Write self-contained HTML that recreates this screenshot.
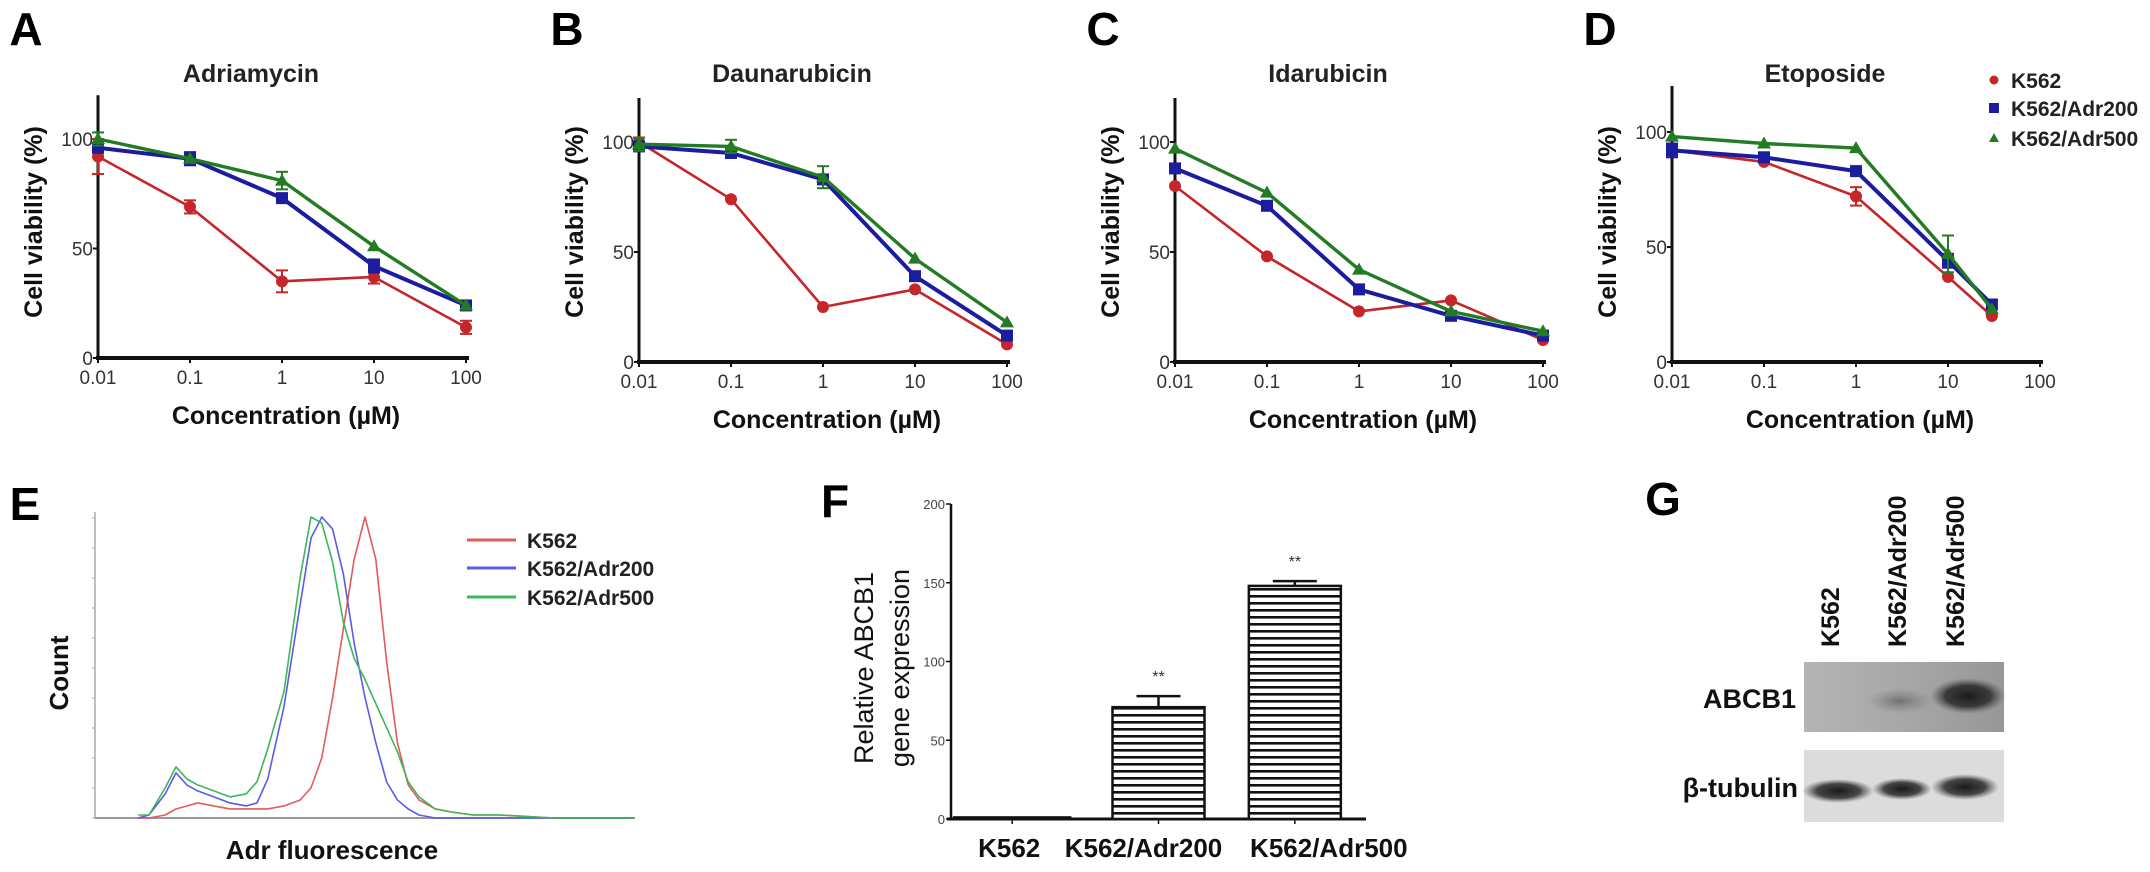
<!DOCTYPE html>
<html><head><meta charset="utf-8">
<style>
html,body{margin:0;padding:0;background:#fff;}
svg{display:block;font-family:"Liberation Sans",Arial,sans-serif;}
</style></head>
<body>
<svg id="fig" width="2150" height="872" viewBox="0 0 2150 872" xmlns="http://www.w3.org/2000/svg">
<defs>
<pattern id="hstripe" width="8" height="7" patternUnits="userSpaceOnUse">
<rect width="8" height="7" fill="#fff"/><rect y="0" width="8" height="2.6" fill="#111"/>
</pattern>
<linearGradient id="blot1" x1="0" x2="1" y1="0" y2="0">
<stop offset="0" stop-color="#b4b4b4"/><stop offset="0.45" stop-color="#a9a9a9"/><stop offset="1" stop-color="#979797"/>
</linearGradient>
<radialGradient id="band" cx="0.5" cy="0.5" r="0.5"><stop offset="0" stop-color="#1a1a1a"/><stop offset="0.6" stop-color="#2a2a2a" stop-opacity="0.85"/><stop offset="1" stop-color="#555" stop-opacity="0"/></radialGradient>
<radialGradient id="bandWeak" cx="0.5" cy="0.5" r="0.5"><stop offset="0" stop-color="#707070"/><stop offset="1" stop-color="#888" stop-opacity="0"/></radialGradient>
</defs>
</svg>
<script>
// ---------- Panel A-D data ----------
const concTicks = ["0.01","0.1","1","10","100"];
const concX = [0.01,0.1,1,10,100];
const concD = [0.01,0.1,1,10,30];
const yTicks = [0,50,100];
const seriesNames = ["K562","K562/Adr200","K562/Adr500"];
const adrK562 = [92,69,35,37,14];
const adrA200 = [96,91,73,42,24];
const adrA500 = [100,91,81,51,24];
const adrErrK562 = [8,3,5,3,3];
const adrErrA200 = [2,3,1,3,1];
const adrErrA500 = [3,1,4,1,1];
const dauK562 = [100,74,25,33,8];
const dauA200 = [98,95,83,39,12];
const dauA500 = [99,98,84,47,18];
const dauErrK562 = [2,1,1,1,1];
const dauErrA200 = [2,2,2,2,1];
const dauErrA500 = [3,3,5,1,1];
const idaK562 = [80,48,23,28,10];
const idaA200 = [88,71,33,21,12];
const idaA500 = [97,77,42,23,14];
const idaErrK562 = [1,1,1,1,1];
const idaErrA200 = [2,2,2,2,1];
const idaErrA500 = [1,1,1,1,1];
const etoK562 = [92,87,72,37,20];
const etoA200 = [92,89,83,44,25];
const etoA500 = [98,95,93,47,23];
const etoErrK562 = [1,1,4,1,1];
const etoErrA200 = [3,2,2,3,2];
const etoErrA500 = [1,1,1,8,1];
// ---------- Panel E data (channel 0-100, count % of max) ----------
const flChannels = [8,10,13,15,17,19,22,25,28,30,32,35,38,40,42,44,46,48,50,52,54,56,58,60,63,66,70,75,85,100];
const flK562 = [0,0,1,3,4,5,4,3,3,3,3,4,6,10,20,40,63,86,100,86,52,25,11,6,3,2,1,1,0,0];
const flA200 = [0,1,8,15,11,9,7,5,4,5,13,37,71,93,100,96,81,58,40,25,12,6,3,1,0,0,0,0,0,0];
const flA500 = [1,1,10,17,13,11,9,7,8,12,23,42,80,100,98,85,65,53,46,38,30,22,12,7,3,2,1,1,0,0];
// ---------- Panel F data ----------
const fCategories = ["K562","K562/Adr200","K562/Adr500"];
const fValues = [1,71,148];
const fErrors = [0.5,7,3];
const fTicks = [0,50,100,150,200];
const fSig = ["","**","**"];

const NS="http://www.w3.org/2000/svg";
const svg=document.getElementById('fig');
function mk(tag,attrs,parent,text){
  const e=document.createElementNS(NS,tag);
  for(const k in attrs) e.setAttribute(k,attrs[k]);
  if(text!==undefined) e.textContent=text;
  (parent||svg).appendChild(e);
  return e;
}
const colors=["#c4262a","#1c1c9e","#237b23"];
const widths=[2.6,4,3.4];

function marker(g,kind,x,y,color){
  let m;
  if(kind===0){ m=mk('circle',{cx:x,cy:y,r:6,fill:color},g); }
  else if(kind===1){ m=mk('rect',{x:x-6,y:y-6,width:12,height:12,fill:color},g); }
  else { m=mk('polygon',{points:`${x},${y-7} ${x+7},${y+5} ${x-7},${y+5}`,fill:color},g); }
  
  
}

function viabilityPanel(cfg){
  const g=mk('g',{});
  
  
  const X=c=>cfg.x0+(Math.log10(c)+2)*cfg.step;
  const Y=v=>cfg.y0-v*cfg.ppu;
  const xEnd=cfg.x0+4*cfg.step;
  const L=mk('text',{x:cfg.x0-72,y:45,'font-size':46,'font-weight':'bold',fill:'#000','text-anchor':'middle'},g,cfg.letter);
  
  
  const T=mk('text',{x:cfg.x0+153,y:82,'font-size':25,'font-weight':'bold',fill:'#222','text-anchor':'middle'},g,cfg.title);
  
  
  const ya=mk('line',{x1:cfg.x0,y1:Y(0)+1,x2:cfg.x0,y2:Y(120),stroke:'#111','stroke-width':3},g);
  
  
  const xa=mk('line',{x1:cfg.x0-2,y1:Y(0),x2:xEnd+3,y2:Y(0),stroke:'#111','stroke-width':4},g);
  
  
  yTicks.forEach(v=>{
    mk('line',{x1:cfg.x0-5,y1:Y(v),x2:cfg.x0,y2:Y(v),stroke:'#111','stroke-width':2},g);
    const t=mk('text',{x:cfg.x0-5,y:Y(v)+7,'font-size':19,fill:'#333','text-anchor':'end'},g,String(v));
    
    
  });
  concX.forEach((c,i)=>{
    mk('line',{x1:X(c),y1:Y(0),x2:X(c),y2:Y(0)+5,stroke:'#111','stroke-width':2},g);
    const t=mk('text',{x:X(c),y:cfg.y0+26,'font-size':19,fill:'#333','text-anchor':'middle'},g,concTicks[i]);
    
    
  });
  const xl=mk('text',{x:cfg.x0+188,y:cfg.y0+66,'font-size':25,'font-weight':'bold',fill:'#111','text-anchor':'middle'},g,'Concentration (\u00b5M)');
  
  
  const yl=mk('text',{x:0,y:0,'font-size':25,'font-weight':'bold',fill:'#111','text-anchor':'middle',transform:`translate(${cfg.x0-56},222) rotate(-90)`},g,'Cell viability (%)');
  
  
  cfg.series.forEach((vals,s)=>{
    const sg=mk('g',{},g);
    
    
    const pts=vals.map((v,i)=>X(cfg.xs[i])+','+Y(v)).join(' ');
    mk('polyline',{points:pts,fill:'none',stroke:colors[s],'stroke-width':widths[s],'stroke-linejoin':'round'},sg);
    vals.forEach((v,i)=>{
      const e=cfg.errs[s][i], x=X(cfg.xs[i]);
      if(e>1.5){
        mk('line',{x1:x,y1:Y(v+e),x2:x,y2:Y(v-e),stroke:colors[s],'stroke-width':2},sg);
        mk('line',{x1:x-6,y1:Y(v+e),x2:x+6,y2:Y(v+e),stroke:colors[s],'stroke-width':2},sg);
        mk('line',{x1:x-6,y1:Y(v-e),x2:x+6,y2:Y(v-e),stroke:colors[s],'stroke-width':2},sg);
      }
      marker(sg,s,x,Y(v),colors[s]);
    });
  });
  return g;
}

viabilityPanel({name:'panel-a-adriamycin',letter:'A',title:'Adriamycin',x0:98,step:92,y0:358,ppu:2.19,xs:concX,
  series:[adrK562,adrA200,adrA500],errs:[adrErrK562,adrErrA200,adrErrA500]});
viabilityPanel({name:'panel-b-daunarubicin',letter:'B',title:'Daunarubicin',x0:639,step:92,y0:362,ppu:2.2,xs:concX,
  series:[dauK562,dauA200,dauA500],errs:[dauErrK562,dauErrA200,dauErrA500]});
viabilityPanel({name:'panel-c-idarubicin',letter:'C',title:'Idarubicin',x0:1175,step:92,y0:362,ppu:2.2,xs:concX,
  series:[idaK562,idaA200,idaA500],errs:[idaErrK562,idaErrA200,idaErrA500]});
viabilityPanel({name:'panel-d-etoposide',letter:'D',title:'Etoposide',x0:1672,step:92,y0:362,ppu:2.3,xs:concD,
  series:[etoK562,etoA200,etoA500],errs:[etoErrK562,etoErrA200,etoErrA500]});

(function(){
  const g=mk('g',{});
  
  
  const ys=[80,108,138];
  seriesNames.forEach((n,i)=>{
    const eg=mk('g',{},g);
    
    
    if(i===0) mk('circle',{cx:1994,cy:ys[i],r:4.5,fill:colors[i]},eg);
    else if(i===1) mk('rect',{x:1989,y:ys[i]-5,width:10,height:10,fill:colors[i]},eg);
    else mk('polygon',{points:`1994,${ys[i]-5} 1999,${ys[i]+4} 1989,${ys[i]+4}`,fill:colors[i]},eg);
    mk('text',{x:2011,y:ys[i]+8,'font-size':21,'font-weight':'bold',fill:'#222'},eg,n);
  });
})();

// ---------- Panel E ----------
(function(){
  const g=mk('g',{});
  
  
  const X=c=>95+c*5.4, Y=v=>818-v*3.01;
  const L=mk('text',{x:25,y:520,'font-size':46,'font-weight':'bold',fill:'#000','text-anchor':'middle'},g,'E');
  
  
  const ya=mk('line',{x1:95,y1:818,x2:95,y2:512,stroke:'#aaa','stroke-width':1.5},g);
  
  
  for(let k=0;k<=10;k++){ mk('line',{x1:92,y1:818-k*30,x2:95,y2:818-k*30,stroke:'#aaa','stroke-width':1},g); }
  const xa=mk('line',{x1:95,y1:818,x2:635,y2:818,stroke:'#999','stroke-width':2},g);
  
  
  const ecol=["#e35b5b","#5b5be3","#3cb85a"];
  [flK562,flA200,flA500].forEach((arr,s)=>{
    const p=mk('polyline',{points:arr.map((v,i)=>X(flChannels[i])+','+Y(v)).join(' '),fill:'none',stroke:ecol[s],'stroke-width':1.6,'stroke-linejoin':'round'},g);
    
    
  });
  const ys=[540,568,597];
  seriesNames.forEach((n,i)=>{
    const eg=mk('g',{},g);
    
    
    mk('line',{x1:467,y1:ys[i],x2:516,y2:ys[i],stroke:ecol[i],'stroke-width':3},eg);
    mk('text',{x:527,y:ys[i]+8,'font-size':21,'font-weight':'bold',fill:'#222'},eg,n);
  });
  const yl=mk('text',{x:0,y:0,'font-size':26,'font-weight':'bold',fill:'#111','text-anchor':'middle',transform:'translate(68,673) rotate(-90)'},g,'Count');
  
  
  const xl=mk('text',{x:332,y:859,'font-size':26,'font-weight':'bold',fill:'#111','text-anchor':'middle'},g,'Adr fluorescence');
  
  
})();

// ---------- Panel F ----------
(function(){
  const g=mk('g',{});
  
  
  const x0=951, xEnd=1366, y0=819, ppu=1.575;
  const Y=v=>y0-v*ppu;
  const band=(xEnd-x0)/fCategories.length;
  const labelShift=[-3,-15,34];
  const L=mk('text',{x:835,y:517,'font-size':46,'font-weight':'bold',fill:'#000','text-anchor':'middle'},g,'F');
  
  
  const ya=mk('line',{x1:x0,y1:y0+1,x2:x0,y2:Y(200),stroke:'#111','stroke-width':2.5},g);
  
  
  const xa=mk('line',{x1:x0-4,y1:y0,x2:xEnd,y2:y0,stroke:'#111','stroke-width':3},g);
  
  
  fTicks.forEach(v=>{
    mk('line',{x1:x0-5,y1:Y(v),x2:x0,y2:Y(v),stroke:'#111','stroke-width':1.5},g);
    const t=mk('text',{x:x0-6,y:Y(v)+5,'font-size':13,fill:'#444','text-anchor':'end'},g,String(v));
    
    
  });
  fCategories.forEach((c,i)=>{
    const cx=x0+band*(i+0.5)+(i===0?-8:(i===2?-2:0));
    const w=i===0?116:92;
    const h=fValues[i]*ppu;
    const b=mk('rect',{x:cx-w/2,y:Y(fValues[i]),width:w,height:h,fill:'url(#hstripe)',stroke:'#111','stroke-width':2.5},g);
    
    
    const e=fErrors[i];
    if(e>1){
      mk('line',{x1:cx,y1:Y(fValues[i]),x2:cx,y2:Y(fValues[i]+e),stroke:'#111','stroke-width':2.5},g);
      mk('line',{x1:cx-22,y1:Y(fValues[i]+e),x2:cx+22,y2:Y(fValues[i]+e),stroke:'#111','stroke-width':2.5},g);
    }
    if(fSig[i]){
      const s=mk('text',{x:cx,y:Y(fValues[i]+e)-14,'font-size':16,fill:'#333','text-anchor':'middle'},g,fSig[i]);
      
      
    }
    mk('line',{x1:cx,y1:y0,x2:cx,y2:y0+5,stroke:'#111','stroke-width':1.5},g);
    const t=mk('text',{x:cx+labelShift[i],y:857,'font-size':26,'font-weight':'bold',fill:'#111','text-anchor':'middle'},g,c);
    
    
  });
  const yl=mk('text',{'font-size':27,fill:'#111','text-anchor':'middle',transform:'translate(873,668) rotate(-90)'},g);
  
  
  mk('tspan',{x:0,y:0},yl,'Relative ABCB1');
  mk('tspan',{x:0,y:36},yl,'gene expression');
})();

// ---------- Panel G ----------
(function(){
  const g=mk('g',{});
  
  
  const L=mk('text',{x:1663,y:515,'font-size':46,'font-weight':'bold',fill:'#000','text-anchor':'middle'},g,'G');
  
  
  const lanes=[1830,1897,1955];
  seriesNames.forEach((n,i)=>{
    const t=mk('text',{'font-size':25,'font-weight':'bold',fill:'#111','text-anchor':'start',transform:`translate(${lanes[i]+9},647) rotate(-90)`},g,n);
    
    
  });
  const b1=mk('rect',{x:1804,y:662,width:200,height:70,fill:'url(#blot1)'},g);
  
  
  mk('ellipse',{cx:1900,cy:701,rx:34,ry:13,fill:'url(#bandWeak)'},g);
  mk('ellipse',{cx:1968,cy:696,rx:38,ry:18,fill:'url(#band)'},g);
  const b2=mk('rect',{x:1804,y:750,width:200,height:72,fill:'#dcdcdc'},g);
  
  
  mk('ellipse',{cx:1838,cy:791,rx:36,ry:12,fill:'url(#band)'},g);
  mk('ellipse',{cx:1902,cy:789,rx:30,ry:11,fill:'url(#band)'},g);
  mk('ellipse',{cx:1965,cy:787,rx:34,ry:13,fill:'url(#band)'},g);
  const a=mk('text',{x:1796,y:708,'font-size':27,'font-weight':'bold',fill:'#111','text-anchor':'end'},g,'ABCB1');
  
  
  const bt=mk('text',{x:1798,y:797,'font-size':27,'font-weight':'bold',fill:'#111','text-anchor':'end'},g,'\u03b2-tubulin');
  
  
})();
</script>
</body></html>
